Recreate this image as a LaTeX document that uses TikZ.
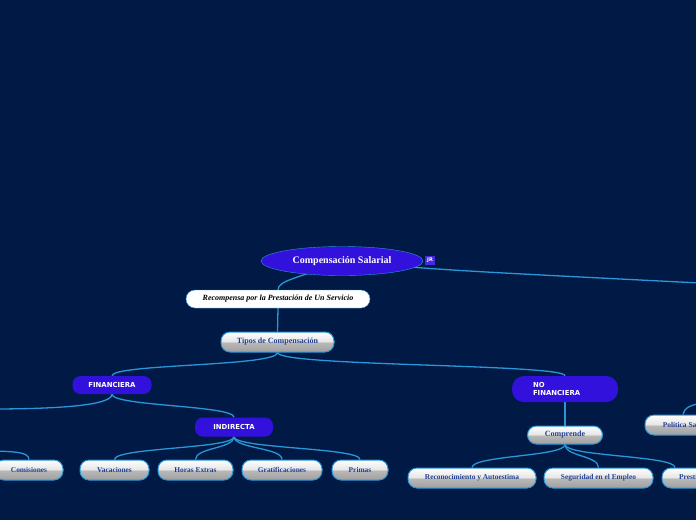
\documentclass[tikz,border=0pt]{standalone}
\usepackage{fontspec}
\setmainfont{Liberation Serif}
\newfontfamily\capsfont{DejaVu Sans}
\usetikzlibrary{shapes.geometric, backgrounds}
\definecolor{mapBg}{HTML}{001A45}
\definecolor{mapBlue}{HTML}{3311DD}
\definecolor{mapLine}{HTML}{2A96D8}
\definecolor{mapText}{HTML}{223F8E}
\pgfdeclareverticalshading{glossy}{100bp}{color(0bp)=(gray!75); color(25bp)=(gray!75);
  color(49bp)=(gray!55); color(51bp)=(gray!20); color(75bp)=(white); color(100bp)=(white)}

\begin{document}
\begin{tikzpicture}[x=1pt, y=-1pt,
    topic/.style={ellipse, draw=mapLine, fill=mapBlue, text=white, inner sep=0pt,
      font=\bfseries\fontsize{10}{11}\selectfont, minimum width=162pt, minimum height=29pt},
    tag/.style={fill=mapBlue!90!white, text=white, inner sep=0pt, minimum width=10pt,
      minimum height=9pt, font=\capsfont\bfseries\fontsize{5}{5}\selectfont},
    note/.style={rounded corners=9pt, fill=white, draw=mapLine, text=black, inner sep=0pt,
      font=\bfseries\itshape\fontsize{8}{9}\selectfont, minimum height=18pt},
    bluebox/.style={rounded corners=8pt, fill=mapBlue, text=white, inner sep=0pt,
      font=\capsfont\bfseries\fontsize{6.9}{8.2}\selectfont, minimum height=18pt},
    button/.style={rounded corners=9pt, draw=mapLine, line width=1pt, shading=glossy,
      text=mapText, inner sep=0pt, font=\bfseries\fontsize{7.4}{8}\selectfont,
      minimum height=20pt},
    branch/.style={draw=mapLine, line width=1.3pt}]
  \useasboundingbox (0,0) rectangle (696,520);

  % center
  \node[topic] (root) at (342,261) {Compensación Salarial};
  \node[tag] (jr) at (430,260) {JR};
  \node[note, minimum width=184pt] (recomp) at (278,299)
    {Recompensa por la Prestación de Un Servicio};
  \node[button, minimum width=113pt, font=\bfseries\fontsize{8}{9}\selectfont] (tipos)
    at (277.5,342) {Tipos de Compensación};

  % financiera
  \node[bluebox, minimum width=79pt] (fin) at (112,385) {FINANCIERA};
  \node[bluebox, minimum width=78pt, minimum height=19pt] (indir) at (234,427) {INDIRECTA};
  \node[button, minimum width=68pt] (com) at (29,470) {Comisiones};
  \node[button, minimum width=69pt] (vac) at (114.5,470) {Vacaciones};
  \node[button, minimum width=75pt] (horas) at (195.5,470) {Horas Extras};
  \node[button, minimum width=80pt] (grat) at (282,470) {Gratificaciones};
  \node[button, minimum width=56pt] (prim) at (360,470) {Primas};

  % no financiera
  \node[bluebox, rounded corners=12pt, minimum width=106pt, minimum height=26pt,
    text width=64pt, align=left] (nofin) at (565,389) {NO\\FINANCIERA};
  \node[button, minimum width=75pt, minimum height=18pt, font=\bfseries\fontsize{8}{9}\selectfont]
    (compr) at (565,435) {Comprende};
  \node[button, minimum width=128pt] (recon) at (472,478) {Reconocimiento y Autoestima};
  \node[button, minimum width=109pt] (seg) at (598.5,478) {Seguridad en el Empleo};
  \node[button, minimum width=62pt] (pres) at (693,478) {Prestigio};
  \node[button, minimum width=86pt] (pol) at (688,425) {Política Salarial};

  \coordinate (offright) at (720,284);
  \coordinate (offpol) at (710,402);
  \coordinate (offleft) at (-10,409);
  \coordinate (offdir) at (-20,451);

  \begin{scope}[on background layer]
    \fill[mapBg] (0,0) rectangle (696,520);
    \draw[branch] (root.center) .. controls (300,278) and (278,280) .. (recomp.north);
    \draw[branch] (root.center) .. controls (440,270) .. (offright);
    \draw[branch] (offpol) .. controls (690,404) and (684,408) .. ([xshift=-5pt]pol.north);
    \draw[branch] (recomp.south) -- (tipos.north);
    \draw[branch] (tipos.south) .. controls +(0,14) and +(0,-12) .. (fin.north);
    \draw[branch] (tipos.south) .. controls +(0,14) and +(0,-12) .. (nofin.north);
    \draw[branch] (fin.south) .. controls +(0,12) and +(60,0) .. (offleft);
    \draw[branch] (fin.south) .. controls +(0,12) and +(0,-12) .. (indir.north);
    \draw[branch] (offdir) .. controls (15,451) and (29,452) .. (com.north);
    \foreach \kid in {vac, horas, grat, prim}
      \draw[branch] (indir.south) .. controls +(0,12) and +(0,-12) .. (\kid.north);
    \draw[branch] (nofin.south) -- (compr.north);
    \foreach \kid in {recon, seg}
      \draw[branch] (compr.south) .. controls +(0,12) and +(0,-12) .. (\kid.north);
    \draw[branch] (compr.south) .. controls +(0,12) and +(0,-12) .. ([xshift=-18pt]pres.north);
  \end{scope}
\end{tikzpicture}
\end{document}
